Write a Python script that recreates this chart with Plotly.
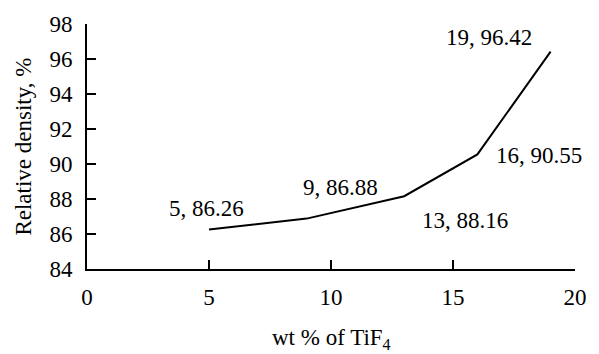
import plotly.graph_objects as go

wt_tif4 = [5, 9, 13, 16, 19]
rel_density = [86.26, 86.88, 88.16, 90.55, 96.42]
x_ticks = [0, 5, 10, 15, 20]
y_ticks = [84, 86, 88, 90, 92, 94, 96, 98]
x_title = "wt % of TiF<sub>4</sub>"
y_title = "Relative density, %"

# label pixel offsets (style only)
shifts = [(-3, 21), (34, 31), (61, -24), (62, -1), (-62, 14)]

FONT = "Liberation Serif, Times New Roman, serif"
FS = 23

fig = go.Figure()
fig.add_trace(go.Scatter(x=wt_tif4, y=rel_density, mode="lines",
                         line=dict(color="black", width=2), showlegend=False,
                         hoverinfo="skip"))

for (xv, yv), (dx, dy) in zip(zip(wt_tif4, rel_density), shifts):
    fig.add_annotation(x=xv, y=yv, xref="x", yref="y",
                       text=f"{xv}, {yv:.2f}", showarrow=False,
                       xshift=dx, yshift=dy,
                       font=dict(family=FONT, size=FS, color="black"))

# axis titles as paper annotations for exact placement
fig.add_annotation(x=0.5, y=-0.285, xref="paper", yref="paper",
                   text=x_title, showarrow=False, xanchor="center",
                   yanchor="middle", font=dict(family=FONT, size=FS))
fig.add_annotation(x=-0.131, y=0.5, xref="paper", yref="paper",
                   text=y_title, showarrow=False, textangle=-90,
                   xanchor="center", yanchor="middle",
                   font=dict(family=FONT, size=FS))

fig.update_layout(
    width=599, height=354,
    margin=dict(l=87, r=16, t=24, b=85),
    paper_bgcolor="white", plot_bgcolor="white",
    font=dict(family=FONT, size=FS, color="black"),
)
fig.update_xaxes(range=[0, 20], tickvals=x_ticks, ticks="inside", ticklen=9,
                 tickwidth=2, tickcolor="black", showline=True, linewidth=2,
                 linecolor="black", showgrid=False, zeroline=False,
                 ticklabelstandoff=6,
                 tickfont=dict(family=FONT, size=FS))
fig.update_yaxes(range=[84, 98], tickvals=y_ticks, ticks="inside", ticklen=9,
                 tickwidth=2, tickcolor="black", showline=True, linewidth=2,
                 linecolor="black", showgrid=False, zeroline=False,
                 ticklabelstandoff=8,
                 tickfont=dict(family=FONT, size=FS))

fig.write_html("out.html", config={"displayModeBar": False},
               post_script="document.body.style.margin='0';document.body.style.overflow='hidden';")
